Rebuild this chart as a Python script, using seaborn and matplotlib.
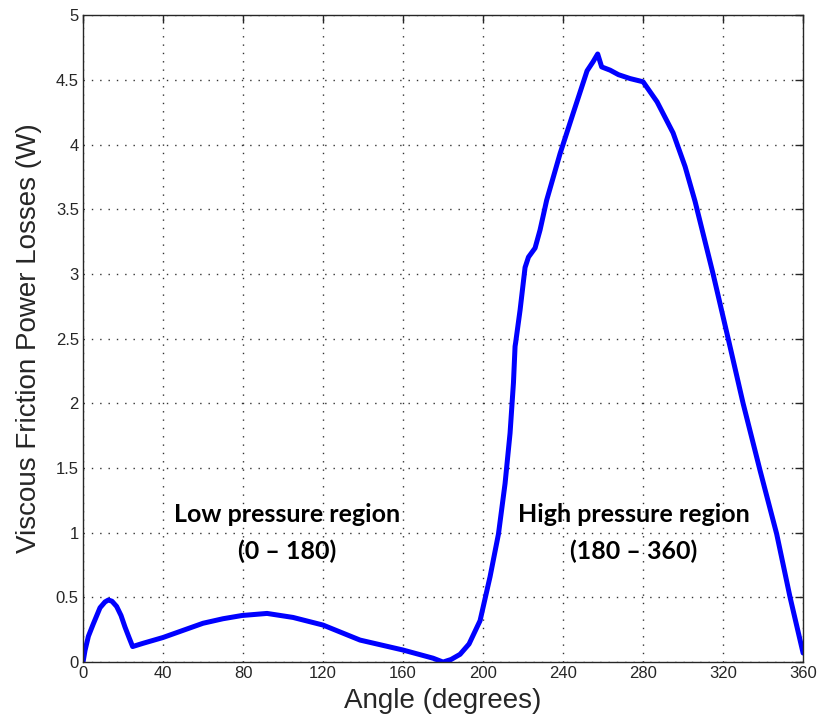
import matplotlib
matplotlib.use("Agg")
import matplotlib.pyplot as plt
import seaborn as sns
import pandas as pd

# Viscous friction power loss over one revolution
angle_deg = [0, 1, 2.7, 5, 8.5, 11, 12.7, 14.5, 16.8, 19, 21, 23, 24.8, 30,
             40, 50, 60, 70, 79.5, 92, 105, 120, 138.5, 160, 175, 180, 184,
             188.5, 193, 198.5, 203.5, 207.7, 211, 213.5, 215.2, 216, 216.3,
             218.5, 221, 222.7, 226, 228.5, 231.8, 238.5, 245, 252, 255, 257.3,
             259.3, 263.5, 267.7, 273.5, 280, 287, 295, 301, 306, 315, 322.7,
             330, 338.5, 346.8, 353.5, 360]
power_w = [0.0, 0.09, 0.20, 0.29, 0.42, 0.465, 0.48, 0.47, 0.43, 0.36, 0.27,
           0.19, 0.12, 0.145, 0.19, 0.245, 0.30, 0.335, 0.36, 0.376, 0.345,
           0.286, 0.17, 0.093, 0.03, 0.0, 0.02, 0.06, 0.14, 0.32, 0.66, 0.99,
           1.38, 1.77, 2.16, 2.44, 2.47, 2.72, 3.05, 3.13, 3.20, 3.34, 3.57,
           3.93, 4.24, 4.57, 4.64, 4.70, 4.60, 4.575, 4.54, 4.51, 4.485, 4.33,
           4.09, 3.83, 3.56, 3.00, 2.49, 2.00, 1.48, 0.99, 0.50, 0.07]

x_ticks = [0, 40, 80, 120, 160, 200, 240, 280, 320, 360]
y_ticks = [0, 0.5, 1, 1.5, 2, 2.5, 3, 3.5, 4, 4.5, 5]
y_tick_labels = ["0", "0.5", "1", "1.5", "2", "2.5", "3", "3.5", "4", "4.5", "5"]

region_labels = ["Low pressure region\n(0 \u2013 180)",
                 "High pressure region\n(180 \u2013 360)"]
region_centers = [102, 275.5]

df = pd.DataFrame({"Angle": angle_deg, "Power": power_w})

sns.set_style("white")
plt.rcParams["font.family"] = ["Liberation Sans", "DejaVu Sans"]

fig = plt.figure(figsize=(8.22, 7.22), dpi=100)
ax = fig.add_axes([0.101, 0.083, 0.876, 0.896])

sns.lineplot(data=df, x="Angle", y="Power", ax=ax, color="#0000ff",
             linewidth=3.6, sort=False, estimator=None)

ax.set_xlim(0, 360)
ax.set_ylim(0, 5)
ax.set_xticks(x_ticks)
ax.set_yticks(y_ticks)
ax.set_yticklabels(y_tick_labels)
ax.tick_params(direction="in", length=6, width=1, colors="#262626",
               labelsize=12, top=True, right=True, pad=3)
ax.grid(True, linestyle=(0, (1, 5)), color="#333333", linewidth=1.0)
for s in ax.spines.values():
    s.set_color("#262626")
    s.set_linewidth(1.0)

ax.set_xlabel("Angle (degrees)", fontsize=20, color="#262626", labelpad=5)
ax.set_ylabel("Viscous Friction Power Losses (W)", fontsize=20,
              color="#262626", labelpad=10)

for cx, txt in zip(region_centers, region_labels):
    ax.text(cx, 1.0, txt, ha="center", va="center", fontsize=18,
            fontweight="bold", family=["Lato", "DejaVu Sans"],
            linespacing=1.7, color="black")

fig.savefig("out.png", dpi=100)
